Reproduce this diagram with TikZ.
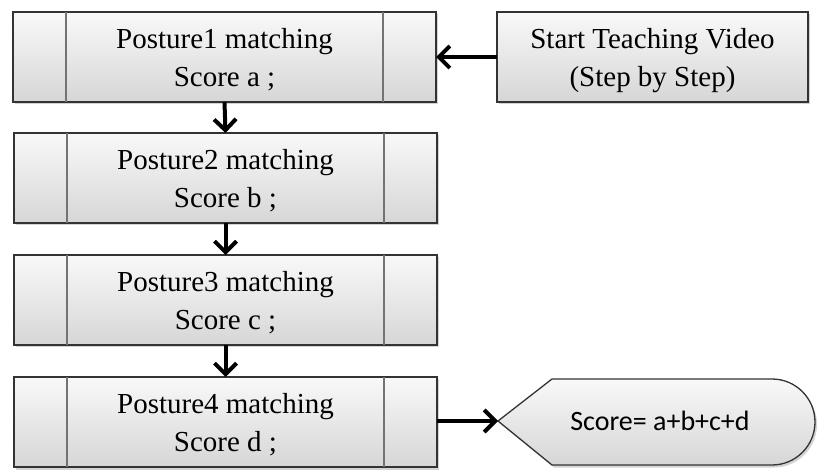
\documentclass[tikz,border=0pt]{standalone}
\usepackage{fontspec}
\setmainfont{Liberation Serif}
\newfontfamily\calib{Carlito}
\usetikzlibrary{arrows.meta,shadows}
\newcommand\tlinesbox[2]{\begin{tabular}{@{}c@{}}\rule{0pt}{33pt}#1\\#2\end{tabular}}
\begin{document}
\begin{tikzpicture}[x=1pt,y=-1pt,
  shad/.style={drop shadow={shadow xshift=2pt, shadow yshift=-2.5pt, opacity=0.35, fill=gray}},
  box/.style={shad, draw=black!80, line width=1.3pt, top color=gray!5, bottom color=gray!32,
    minimum width=423pt, minimum height=90pt, inner sep=0pt, outer sep=0pt, align=center,
    font=\fontsize{29}{38}\selectfont},
  inner/.style={draw=black!55, line width=1.6pt},
  arr/.style={line width=4pt, -{Straight Barb[length=11pt,width=22pt,line width=4pt]}}]
\useasboundingbox (0,0) rectangle (817,470);

\node[box] (p1) at (224.5,57) {\tlinesbox{Posture1 matching}{Score a ;}};
\node[box] (p2) at (225.5,178) {\tlinesbox{Posture2 matching}{Score b ;}};
\node[box] (p3) at (225.5,300) {\tlinesbox{Posture3 matching}{Score c ;}};
\node[box] (p4) at (225.5,422) {\tlinesbox{Posture4 matching}{Score d ;}};
\foreach \n in {p1,p2,p3,p4}{
  \draw[inner] ([xshift=53pt]\n.north west) -- ([xshift=53pt]\n.south west);
  \draw[inner] ([xshift=-53pt]\n.north east) -- ([xshift=-53pt]\n.south east);
}

\node[box, minimum width=311pt] (st) at (652.5,57) {\tlinesbox{Start Teaching Video}{(Step by Step)}};

\draw[shad, draw=black!80, line width=1.3pt, top color=gray!5, bottom color=gray!32]
  (498,421) -- (552,379) -- (772,379)
  .. controls (795.7,379) and (815,398.3) .. (815,422)
  .. controls (815,445.7) and (795.7,465) .. (772,465)
  -- (552,465) -- cycle;
\coordinate (sl) at (498,421);
\node[font=\calib\fontsize{28}{32}\selectfont, inner sep=0pt] (sc) at (660,421) {Score= a+b+c+d};

\draw[arr] (st.west) -- (p1.east);
\draw[arr] (p1.south) -- (p2.north);
\draw[arr] (p2.south) -- (p3.north);
\draw[arr] (p3.south) -- (p4.north);
\draw[arr] (p4.east |- sl) -- (sl);
\end{tikzpicture}
\end{document}
